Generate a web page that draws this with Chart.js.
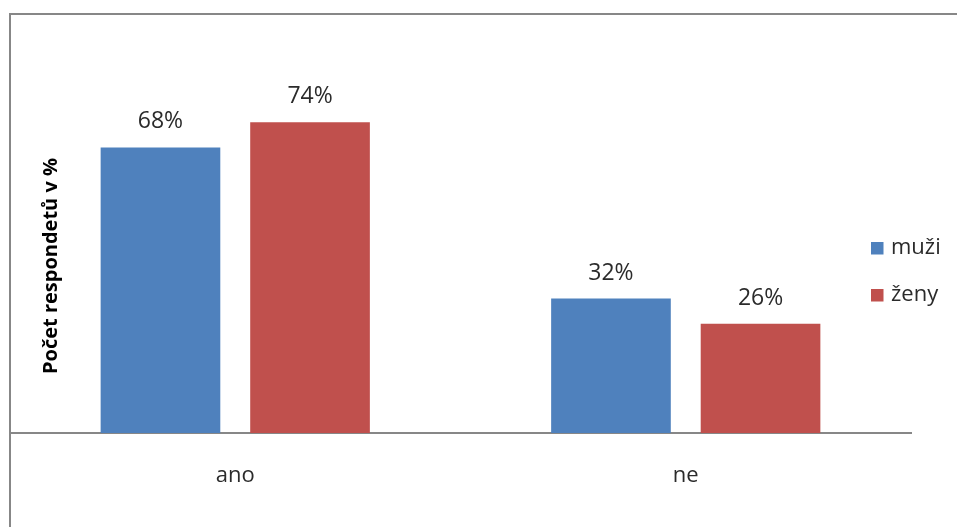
<!DOCTYPE html>
<html>
<head>
<meta charset="utf-8">
<script src="https://cdn.jsdelivr.net/npm/chart.js@4/dist/chart.umd.min.js"></script>
<style>
html,body{margin:0;padding:0;background:#fff;}
#wrap{width:957px;height:527px;position:relative;}
</style>
</head>
<body>
<div id="wrap"><canvas id="c" width="957" height="527"></canvas></div>
<script>
const categories = ["ano", "ne"];
const seriesNames = ["muži", "ženy"];
const muzi = [68, 32];
const zeny = [74, 26];
const yTitle = "Počet respondetů v %";

const FONT = "'Open Sans', 'DejaVu Sans', sans-serif";
const TEXT = "#2b2b2b";

const decor = {
  id: 'decor',
  afterDatasetsDraw(chart) {
    const ctx = chart.ctx;
    ctx.save();
    ctx.font = "23px " + FONT;
    ctx.fillStyle = TEXT;
    ctx.textAlign = 'center';
    ctx.textBaseline = 'alphabetic';
    chart.data.datasets.forEach((ds, i) => {
      chart.getDatasetMeta(i).data.forEach((el, j) => {
        ctx.fillText(ds.data[j] + '%', el.x, el.y - 19);
      });
    });
    ctx.restore();
  },
  afterDraw(chart) {
    const ctx = chart.ctx;
    ctx.save();
    // outer frame
    ctx.strokeStyle = '#878787';
    ctx.lineWidth = 2;
    ctx.strokeRect(10, 14, 1200, 800);
    // y title
    ctx.translate(51, 266);
    ctx.rotate(-Math.PI / 2);
    ctx.font = "bold 20px " + FONT;
    ctx.fillStyle = '#000';
    ctx.textAlign = 'center';
    ctx.textBaseline = 'middle';
    ctx.fillText(yTitle, 0, 0);
    ctx.restore();
    // legend
    ctx.save();
    ctx.font = "22px " + FONT;
    ctx.textBaseline = 'middle';
    ctx.textAlign = 'left';
    const ys = [248, 295];
    chart.data.datasets.forEach((ds, i) => {
      ctx.fillStyle = ds.backgroundColor;
      ctx.fillRect(871, ys[i] - 6, 12.5, 12.5);
      ctx.fillStyle = TEXT;
      ctx.fillText(ds.label, 891, ys[i]);
    });
    ctx.restore();
  }
};

new Chart(document.getElementById('c'), {
  type: 'bar',
  data: {
    labels: categories,
    datasets: [
      { label: seriesNames[0], data: muzi, backgroundColor: '#4F81BD' },
      { label: seriesNames[1], data: zeny, backgroundColor: '#C0504D' }
    ]
  },
  options: {
    responsive: false,
    animation: false,
    devicePixelRatio: 1,
    layout: { padding: { top: 13, left: 10, right: 46, bottom: 0 } },
    datasets: { bar: { categoryPercentage: 0.664, barPercentage: 0.8 } },
    plugins: { legend: { display: false }, tooltip: { enabled: false } },
    scales: {
      x: {
        grid: { display: false, drawTicks: false },
        border: { display: true, color: '#878787', width: 2 },
        ticks: { padding: 30, color: TEXT, font: { family: FONT, size: 22 } },
        afterFit(scale) { scale.height = 94; }
      },
      y: {
        display: false,
        min: 0,
        max: 100
      }
    }
  },
  plugins: [decor]
});
</script>
</body>
</html>
